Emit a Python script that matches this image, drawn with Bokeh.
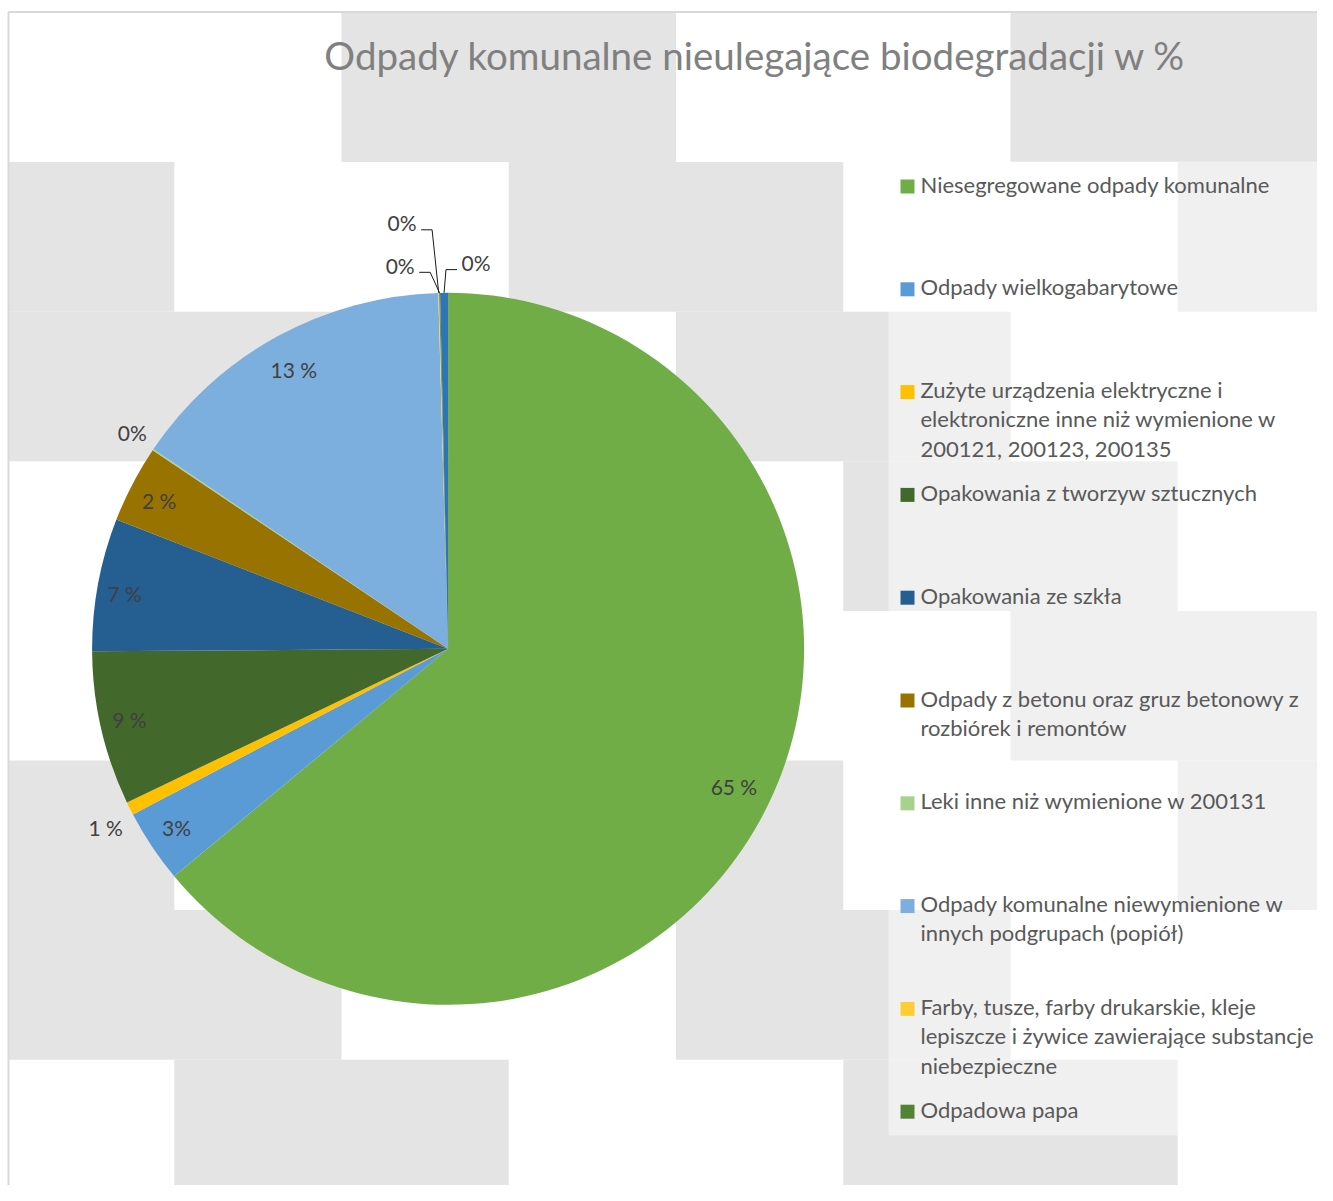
import math
from bokeh.plotting import figure
from bokeh.models import Range1d
from bokeh.core.properties import value
from bokeh.embed import file_html
from bokeh.resources import INLINE

# ---------------- data ----------------
title_text = "Odpady komunalne nieulegające biodegradacji w %"

categories = [
    "Niesegregowane odpady komunalne",
    "Odpady wielkogabarytowe",
    "Zużyte urządzenia elektryczne i\nelektroniczne inne niż wymienione w\n200121, 200123, 200135",
    "Opakowania z tworzyw sztucznych",
    "Opakowania ze szkła",
    "Odpady z betonu oraz gruz betonowy z\nrozbiórek i remontów",
    "Leki inne niż wymienione w 200131",
    "Odpady komunalne niewymienione w\ninnych podgrupach (popiół)",
    "Farby, tusze, farby drukarskie, kleje\nlepiszcze i żywice zawierające substancje\nniebezpieczne",
    "Odpadowa papa",
    "",  # 11th slice, not listed in the visible legend
]
values = [63.97, 3.33, 0.60, 6.99, 6.02, 3.51, 0.06, 15.08, 0.04, 0.04, 0.36]
data_labels = ["65 %", "3%", "1 %", "9 %", "7 %", "2 %", "0%", "13 %", "0%", "0%", "0%"]
colors = ["#70AD47", "#5B9BD5", "#FFC000", "#43682B", "#255E91", "#997300",
          "#A9D18E", "#7CAFDD", "#FFCD33", "#548235", "#2E75B6"]

# label placement (fraction of radius, angular offset in degrees, leader line)
label_r = [0.894, 0.917, 1.087, 0.918, 0.921, 0.910, 1.072, 0.892, 1.198, 1.080, 1.082]
label_da = [0.95, 0.0, -1.14, 0.16, -1.0, -0.7, 0.13, -0.34, -4.68, -5.79, 4.8]
label_leader = [False] * 8 + [True, True, True]

# ---------------- layout (picture px) ----------------
W, H = 1317, 1185
CX, CY, R = 447.6, 648.3, 356.0
FONT = "Lato"
TEXT_DY = 2.0  # "middle" baseline sits a little below cap centre

p = figure(width=W, height=H, x_range=Range1d(0, W), y_range=Range1d(-H, 0),
           output_backend="svg", toolbar_location=None, min_border=0)
p.axis.visible = False
p.grid.visible = False
p.outline_line_color = None
p.background_fill_color = "white"
p.border_fill_color = "white"

# background pattern of the chart area
top0, cell_h, cell_w, period, shift, x_first = 12.0, 149.6, 334.5, 669.0, 167.25, 341.0
left, right, tops, bottoms = [], [], [], []
for k in range(8):
    ytop = top0 + k * cell_h
    ybot = ytop + cell_h
    s = (x_first + shift * k) % period
    start = s - period
    while start < 1340:
        l, r_ = max(start, 8.0), min(start + cell_w, 1333.0)
        if r_ > l:
            left.append(l); right.append(r_)
            tops.append(-ytop); bottoms.append(-ybot)
        start += period
p.quad(left=left, right=right, top=tops, bottom=bottoms, fill_color="#E4E4E4", line_color=None)

# border
p.segment(x0=[8.0, 8.0], y0=[-11.5, -11.5], x1=[8.0, 1333.0], y1=[-1201.0, -11.5],
          line_color="#D9D9D9", line_width=2)

# legend box (semi-transparent white)
p.quad(left=[888], right=[1333], top=[-161], bottom=[-1135], fill_color="white",
       fill_alpha=0.45, line_color=None)

# title
p.text(x=[755], y=[-(56 - TEXT_DY)], text=[title_text], text_font=value(FONT),
       text_font_size="38.5px", text_color="#808080", text_align="center",
       text_baseline="middle")

# pie
total = sum(values)
starts, ends, mids = [], [], []
acc = 0.0
for v in values:
    a0 = acc / total * 360.0
    acc += v
    a1 = acc / total * 360.0
    starts.append(math.radians(90.0 - a0))
    ends.append(math.radians(90.0 - a1))
    mids.append((a0 + a1) / 2.0)

p.wedge(x=[CX] * len(values), y=[-CY] * len(values), radius=R, start_angle=starts,
        end_angle=ends, direction="clock", fill_color=colors, line_color=None)

# data labels
lx, ly = [], []
for i, m in enumerate(mids):
    a = math.radians(m + label_da[i])
    x = CX + label_r[i] * R * math.sin(a)
    y = CY - label_r[i] * R * math.cos(a)
    lx.append(x); ly.append(-(y - TEXT_DY))
    if label_leader[i]:
        am = math.radians(m)
        rx = CX + R * math.sin(am)
        ry = CY - R * math.cos(am)
        half = 14.0
        if x < rx:
            xs = x + half + 5
            xm = xs + 11
        else:
            xs = x - half - 5
            xm = xs - 11
        yl = y + 5
        p.line(x=[xs, xm, rx], y=[-yl, -yl, -ry], line_color="#1A1A1A", line_width=1)
p.text(x=lx, y=ly, text=data_labels, text_font=value(FONT), text_font_size="21px",
       text_color="#404040", text_align="center", text_baseline="middle")

# legend
n_leg = 10
leg_y0, leg_step, line_step, msize = 186.0, 102.8, 29.3, 14.0
mx0 = 900.0
tx, ty, tt = [], [], []
ml, mr, mt, mb, mc = [], [], [], [], []
for i in range(n_leg):
    cy = leg_y0 + i * leg_step
    ml.append(mx0); mr.append(mx0 + msize)
    mt.append(-(cy - msize / 2)); mb.append(-(cy + msize / 2)); mc.append(colors[i])
    for j, line in enumerate(categories[i].split("\n")):
        tx.append(920.0)
        ty.append(-(cy - 0.5 - TEXT_DY + j * line_step))
        tt.append(line)
p.quad(left=ml, right=mr, top=mt, bottom=mb, fill_color=mc, line_color=None)
p.text(x=tx, y=ty, text=tt, text_font=value(FONT), text_font_size="22px",
       text_color="#595959", text_align="left", text_baseline="middle")

open("out.html", "w").write(file_html(p, INLINE))
